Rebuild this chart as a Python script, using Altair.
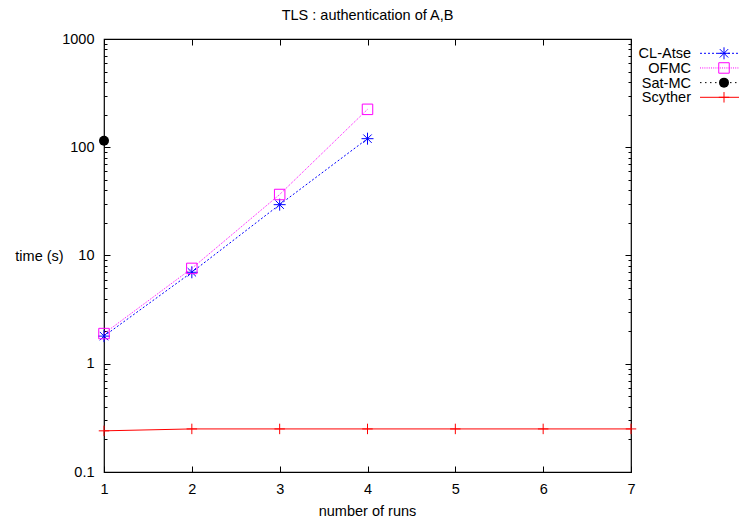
import altair as alt
import pandas as pd

# ---------------- data ----------------
chart_title = "TLS : authentication of A,B"
x_title = "number of runs"
y_title = "time (s)"
solvers = ["CL-Atse", "OFMC", "Sat-MC", "Scyther"]

cl_runs = [1, 2, 3, 4]
cl_time = [1.8, 7.0, 29.5, 120]
ofmc_runs = [1, 2, 3, 4]
ofmc_time = [1.9, 7.6, 36.6, 224]
satmc_runs = [1]
satmc_time = [115]
scyther_runs = [1, 2, 3, 4, 5, 6, 7]
scyther_time = [0.24, 0.25, 0.25, 0.25, 0.25, 0.25, 0.25]

x_ticks = [1, 2, 3, 4, 5, 6, 7]
y_major = [0.1, 1, 10, 100, 1000]
y_minor = [0.2, 0.3, 0.4, 0.5, 0.6, 0.7, 0.8, 0.9,
           2, 3, 4, 5, 6, 7, 8, 9,
           20, 30, 40, 50, 60, 70, 80, 90,
           200, 300, 400, 500, 600, 700, 800, 900]

rows = []
for name, rr, tt in [("CL-Atse", cl_runs, cl_time), ("OFMC", ofmc_runs, ofmc_time),
                     ("Sat-MC", satmc_runs, satmc_time), ("Scyther", scyther_runs, scyther_time)]:
    for r, t in zip(rr, tt):
        rows.append({"solver": name, "run": r, "time": t})
df = pd.DataFrame(rows)
legend_df = pd.DataFrame({"solver": solvers})

# ---------------- styles ----------------
FONT = "Liberation Sans"
FS = 14.5
ASTERISK = "M-1,0H1M0,-1V1M-0.7,-0.7L0.7,0.7M-0.7,0.7L0.7,-0.7"
PLUS = "M-1,0H1M0,-1V1"
styles = {
    "CL-Atse": dict(color="#0000ff", dash=[2, 2], shape=ASTERISK, size=144, filled=False),
    "OFMC": dict(color="#ff00ff", dash=[1, 1.2], shape="square", size=110, filled=False),
    "Sat-MC": dict(color="#000000", dash=[1.5, 3.5], shape="circle", size=100, filled=True),
    "Scyther": dict(color="#ff0000", dash=None, shape=PLUS, size=110, filled=False),
}

xs = alt.Scale(domain=[1, 7], nice=False, zero=False)
ys = alt.Scale(type="log", domain=[0.1, 1000], nice=False)

def line_kw(st):
    kw = dict(color=st["color"], strokeWidth=1)
    if st["dash"]:
        kw["strokeDash"] = st["dash"]
    return kw

def point_kw(st):
    kw = dict(shape=st["shape"], size=st["size"], filled=st["filled"],
              color=st["color"], opacity=1, strokeWidth=1)
    return kw

data_layers = []
for s in solvers:
    st = styles[s]
    base = alt.Chart(df).transform_filter(alt.datum.solver == s)
    enc = dict(x=alt.X("run:Q", scale=xs, axis=None),
               y=alt.Y("time:Q", scale=ys, axis=None))
    data_layers.append(base.mark_line(**line_kw(st)).encode(**enc))
    data_layers.append(base.mark_point(**point_kw(st)).encode(**enc))

common_axis = dict(domain=False, grid=False, tickColor="black", labelColor="black",
                   labelFont=FONT, labelFontSize=FS, titleFont=FONT, labelFlush=False,
                   labelOverlap=False,
                   titleFontSize=FS, titleFontWeight="normal", titleColor="black")

ax1 = alt.Chart(df).mark_point(opacity=0).encode(
    x=alt.X("run:Q", scale=xs, axis=alt.Axis(
        orient="bottom", values=x_ticks, format="d", tickSize=6, offset=-6,
        labelPadding=10, title=x_title, titleX=263, titleY=49,
        titleBaseline="alphabetic", titleAlign="center", **common_axis)),
    y=alt.Y("time:Q", scale=ys, axis=alt.Axis(
        orient="left", values=y_major, format="~g", tickSize=6, offset=-6,
        labelPadding=10, title=y_title, titleAngle=0, titleX=-71, titleY=217,
        titleAlign="center", titleBaseline="middle", **common_axis)),
)
ax2 = alt.Chart(df).mark_point(opacity=0).encode(
    x=alt.X("run:Q", scale=xs, axis=alt.Axis(
        orient="top", values=x_ticks, tickSize=6, offset=-6, labels=False,
        title=None, **common_axis)),
    y=alt.Y("time:Q", scale=ys, axis=alt.Axis(
        orient="left", values=y_minor, tickSize=3, offset=-3, labels=False,
        title=None, **common_axis)),
)
ax3 = alt.Chart(df).mark_point(opacity=0).encode(
    x=alt.X("run:Q", scale=xs, axis=None),
    y=alt.Y("time:Q", scale=ys, axis=alt.Axis(
        orient="right", values=y_major, tickSize=6, offset=-6, labels=False,
        title=None, **common_axis)),
)
ax4 = alt.Chart(df).mark_point(opacity=0).encode(
    x=alt.X("run:Q", scale=xs, axis=None),
    y=alt.Y("time:Q", scale=ys, axis=alt.Axis(
        orient="right", values=y_minor, tickSize=3, offset=-3, labels=False,
        title=None, **common_axis)),
)

main = alt.layer(*data_layers, ax1, ax2, ax3, ax4).resolve_axis(x="independent", y="independent")

# ---------------- legend (key box at top right) ----------------
ly = alt.Y("solver:N", axis=None,
           scale=alt.Scale(type="point", domain=solvers, range=[14.3, 58.3], padding=0))
legend_layers = []
for s in solvers:
    st = styles[s]
    lb = alt.Chart(legend_df).transform_filter(alt.datum.solver == s)
    legend_layers.append(lb.mark_text(align="right", baseline="middle", font=FONT,
                                      fontSize=FS, color="black", dy=1).encode(
        x=alt.value(587), y=ly, text="solver:N"))
    legend_layers.append(lb.mark_rule(**line_kw(st)).encode(
        x=alt.value(596), x2=alt.value(650), y=ly))
    legend_layers.append(lb.mark_point(**point_kw(st)).encode(x=alt.value(620), y=ly))
legend = alt.layer(*legend_layers)

chart = alt.layer(main, legend).resolve_scale(x="independent", y="independent").properties(
    width=527, height=433,
    autosize=alt.AutoSizeParams(type="none"),
    padding={"left": 96, "top": 31, "right": 108, "bottom": 47},
    title=alt.TitleParams(text=chart_title, font=FONT, fontSize=FS, fontWeight="normal",
                          color="black", anchor="middle", frame="group",
                          baseline="alphabetic", offset=2, dy=5),
).configure_view(stroke="black", strokeWidth=1.2)

chart.save("out.html", embed_options={"renderer": "svg", "actions": False})
